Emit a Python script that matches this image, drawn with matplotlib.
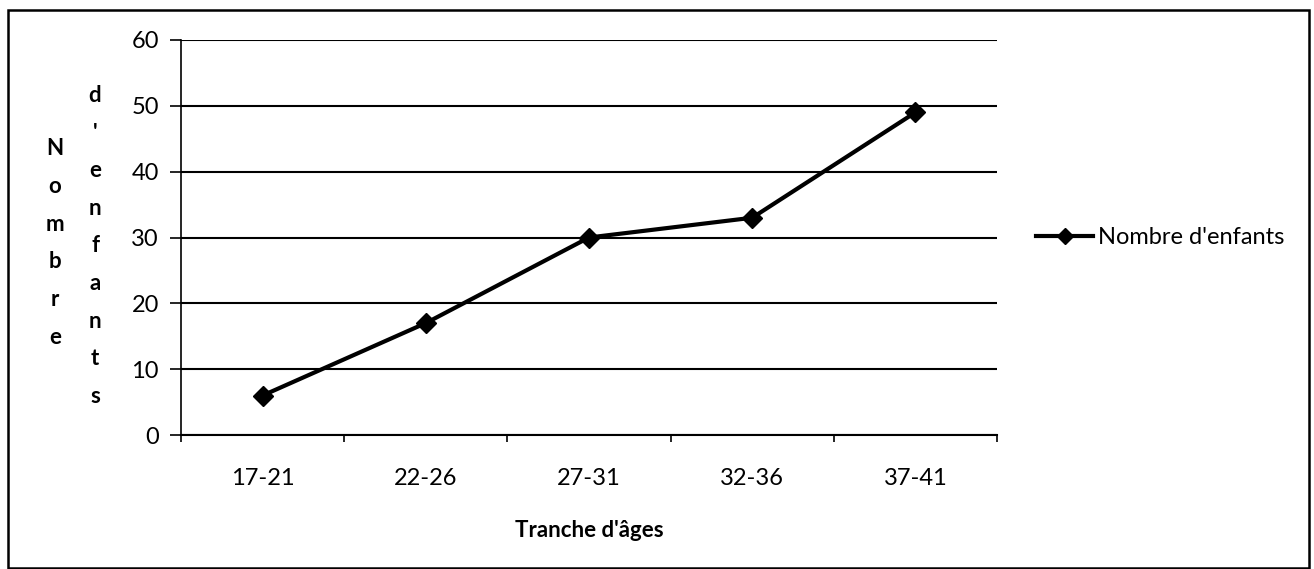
import matplotlib
matplotlib.use("Agg")
import matplotlib.pyplot as plt
from matplotlib.patches import Rectangle

# données
tranches = ["17-21", "22-26", "27-31", "32-36", "37-41"]
enfants = [6, 17, 30, 33, 49]
serie = "Nombre d'enfants"
titre_x = "Tranche d'âges"
titre_y1 = "Nombre"
titre_y2 = "d'enfants"

plt.rcParams["font.family"] = ["Lato", "DejaVu Sans"]

fig = plt.figure(figsize=(13.14, 5.69), dpi=100)
ax = fig.add_axes([181 / 1314, 1 - 435 / 569, 816 / 1314, 395 / 569])

x = list(range(len(tranches)))
ax.plot(x, enfants, color="black", lw=3, marker="D", ms=10.5,
        markerfacecolor="black", markeredgecolor="black", label=serie)

ax.set_xlim(-0.5, len(tranches) - 0.5)
ax.set_ylim(0, 60)
ax.set_yticks(range(0, 61, 10))
ax.set_xticks(x)
ax.set_xticklabels(tranches)
ax.set_xticks([i - 0.5 for i in range(len(tranches) + 1)], minor=True)
ax.tick_params(axis="x", which="major", length=0, labelsize=17, pad=24)
ax.tick_params(axis="x", which="minor", length=5, width=1.2, direction="out")
ax.tick_params(axis="y", length=8, width=1.2, labelsize=17, pad=8)

ax.grid(axis="y", color="black", lw=1.5)
ax.set_axisbelow(True)
for s in ["top", "right"]:
    ax.spines[s].set_visible(False)
ax.spines["left"].set_linewidth(1.2)
ax.spines["bottom"].set_linewidth(1.5)

ax.set_xlabel(titre_x, fontsize=16, fontweight="bold", labelpad=22)

# titre de l'axe y, lettres empilées
fig.text(55 / 1314, 1 - 243 / 569, "\n".join(titre_y1), ha="center", va="center",
         fontsize=16, fontweight="bold", linespacing=1.98)
fig.text(95 / 1314, 1 - 246 / 569, "\n".join(titre_y2), ha="center", va="center",
         fontsize=16, fontweight="bold", linespacing=1.98)

leg = ax.legend(loc="center left", bbox_to_anchor=(1.022, 0.5), frameon=False,
                fontsize=17, handlelength=2.4, handletextpad=0.2, markerscale=0.8)

# cadre extérieur
fig.patches.append(Rectangle((8 / 1314, 1 / 569), 1301 / 1314, 558 / 569,
                             transform=fig.transFigure, fill=False,
                             edgecolor="black", lw=1.8))

fig.savefig("out.png", dpi=100)
